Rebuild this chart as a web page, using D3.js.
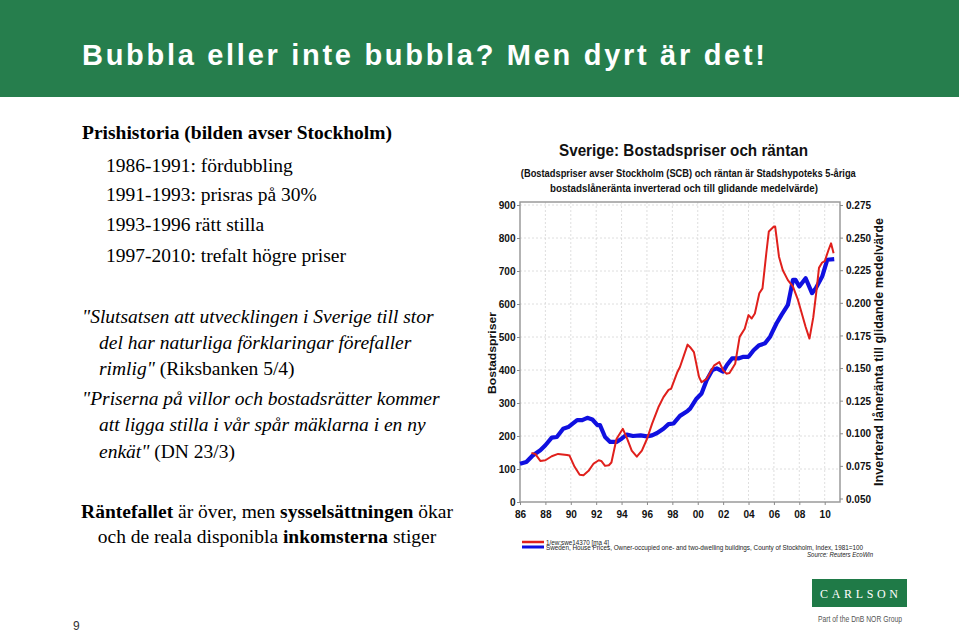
<!DOCTYPE html>
<html><head><meta charset="utf-8">
<script src="https://cdn.jsdelivr.net/npm/d3@7"></script>
<style>body{margin:0;background:#fff}svg{display:block}</style>
</head><body>
<svg id="c" width="959" height="635"></svg>
<script>
// ---------- data ----------
const priceYears = [1986.0,1986.5,1987.0,1987.6,1988.0,1988.5,1988.9,1989.4,1989.8,1990.5,1990.9,1991.3,1991.7,1992.1,1992.3,1992.7,1993.1,1993.6,1994.0,1994.4,1994.9,1995.5,1996.0,1996.4,1996.8,1997.3,1997.7,1998.1,1998.6,1999.2,1999.4,1999.9,2000.3,2000.7,2001.15,2001.5,2002.0,2002.3,2002.7,2003.2,2003.6,2004.0,2004.4,2004.8,2005.3,2005.7,2006.2,2006.6,2007.1,2007.5,2007.7,2008.0,2008.5,2009.0,2009.3,2009.8,2010.2,2010.75];
const priceValues = [116,121,141,157,172,195,197,222,227,248,248,255,250,233,233,197,182,182,192,204,200,202,199,202,209,222,236,238,261,276,283,313,329,369,400,405,395,415,435,435,440,440,460,474,481,501,541,567,597,673,673,653,678,633,648,683,734,736];

const rateYears = [1986.9,1987.2,1987.6,1988.0,1988.5,1989.0,1989.7,1989.9,1990.3,1990.7,1991.0,1991.4,1991.8,1992.2,1992.4,1992.7,1993.0,1993.2,1993.6,1994.1,1994.4,1994.8,1995.2,1995.6,1996.0,1996.4,1996.9,1997.3,1997.7,1997.9,1998.4,1998.6,1999.2,1999.4,1999.7,2000.1,2000.3,2000.7,2001.3,2001.7,2002.0,2002.26,2002.5,2002.95,2003.3,2003.7,2004.0,2004.25,2004.5,2004.85,2005.1,2005.4,2005.6,2006.0,2006.1,2006.4,2006.7,2007.1,2007.5,2007.9,2008.5,2008.8,2009.1,2009.35,2009.55,2009.8,2010.0,2010.3,2010.5,2010.7];
const rateValues = [0.0849,0.0842,0.0788,0.0793,0.0824,0.0842,0.0834,0.0829,0.0743,0.0682,0.0679,0.0712,0.0768,0.0793,0.0788,0.0750,0.0755,0.0776,0.0956,0.1034,0.0968,0.0867,0.0821,0.0867,0.0956,0.1072,0.1199,0.1277,0.1333,0.1341,0.1470,0.1508,0.1680,0.1660,0.1622,0.1432,0.1391,0.1417,0.1521,0.1546,0.1483,0.1457,0.1462,0.1533,0.1739,0.1802,0.1906,0.1880,0.1918,0.2073,0.2111,0.2380,0.2547,0.2585,0.2585,0.2354,0.2250,0.2174,0.2124,0.2020,0.1815,0.1726,0.1888,0.2091,0.2268,0.2309,0.2319,0.2405,0.2456,0.2380];

const leftTicks = [0,100,200,300,400,500,600,700,800,900];
const rightTicks = [0.050,0.075,0.100,0.125,0.150,0.175,0.200,0.225,0.250,0.275];
const xTicks = [1986,1988,1990,1992,1994,1996,1998,2000,2002,2004,2006,2008,2010];
const xTickLabels = ["86","88","90","92","94","96","98","00","02","04","06","08","10"];

const headerTitle = "Bubbla eller inte bubbla? Men dyrt är det!";
const historyHead = "Prishistoria (bilden avser Stockholm)";
const historyLines = ["1986-1991: fördubbling","1991-1993: prisras på 30%","1993-1996 rätt stilla","1997-2010: trefalt högre priser"];
const chartTitle = "Sverige: Bostadspriser och räntan";
const chartSub = ["(Bostadspriser avser Stockholm (SCB) och räntan är Stadshypoteks 5-åriga","bostadslåneränta inverterad och till glidande medelvärde)"];
const leftAxisTitle = "Bostadspriser";
const rightAxisTitle = "Inverterad låneränta till glidande medelvärde";
const legendRate = "1/ew:swe14370 [ma 4]";
const legendPrice = "Sweden, House Prices, Owner-occupied one- and two-dwelling buildings, County of Stockholm, Index, 1981=100";
const sourceText = "Source: Reuters EcoWin";

// ---------- setup ----------
const svg = d3.select("#c");
const SANS = "'Liberation Sans', Arial, sans-serif";
const SERIF = "'Liberation Serif','Times New Roman', serif";

// header band
svg.append("rect").attr("x",0).attr("y",0).attr("width",959).attr("height",97).attr("fill","#267e4d");
svg.append("text").attr("x",82).attr("y",65).text(headerTitle)
  .attr("fill","#fff").attr("font-family",SANS).attr("font-weight","bold").attr("font-size",29)
  .attr("textLength",683).attr("lengthAdjust","spacing");

// left text
const lt = svg.append("g").attr("font-family",SERIF).attr("font-size",19.5).attr("fill","#000");
lt.append("text").attr("x",82).attr("y",139).attr("font-weight","bold").text(historyHead);
const hy = [172,201,231,262];
historyLines.forEach((s,i)=>lt.append("text").attr("x",106).attr("y",hy[i]).text(s));

const quoteLines = [
  {x:82, y:323, parts:[['i','"Slutsatsen att utvecklingen i Sverige till stor']]},
  {x:99, y:349, parts:[['i','del har naturliga förklaringar förefaller']]},
  {x:99, y:375, parts:[['i','rimlig"'],['n',' (Riksbanken 5/4)']]},
  {x:82, y:405, parts:[['i','"Priserna på villor och bostadsrätter kommer']]},
  {x:99, y:431, parts:[['i','att ligga stilla i vår spår mäklarna i en ny']]},
  {x:99, y:458, parts:[['i','enkät"'],['n',' (DN 23/3)']]}
];
quoteLines.forEach(l=>{
  const t = lt.append("text").attr("x",l.x).attr("y",l.y).attr("xml:space","preserve");
  l.parts.forEach(p=>t.append("tspan").attr("font-style",p[0]==='i'?"italic":"normal").text(p[1]));
});
const bottomLines = [
  {y:518, parts:[['b','Räntefallet'],['n',' är över, men '],['b','sysselsättningen'],['n',' ökar']]},
  {y:543, parts:[['n','och de reala disponibla '],['b','inkomsterna'],['n',' stiger']]}
];
bottomLines.forEach(l=>{
  const t = lt.append("text").attr("x",267).attr("y",l.y).attr("text-anchor","middle").attr("xml:space","preserve");
  l.parts.forEach(p=>t.append("tspan").attr("font-weight",p[0]==='b'?"bold":"normal").text(p[1]));
});

// ---------- chart ----------
const x = d3.scaleLinear().domain([1986,2010]).range([520,824.7]);
const yL = d3.scaleLinear().domain([0,900]).range([502,205]);
const yR = d3.scaleLinear().domain([0.05,0.275]).range([498.5,205]);
const frame = {x0:520, x1:840, y0:202, y1:502};

const ch = svg.append("g").attr("font-family",SANS);

ch.append("text").attr("x",683.5).attr("y",156).attr("text-anchor","middle")
  .attr("font-size",17).attr("font-weight","bold").attr("fill","#111")
  .attr("textLength",249).attr("lengthAdjust","spacingAndGlyphs").text(chartTitle);
ch.append("text").attr("x",688.3).attr("y",176.5).attr("text-anchor","middle")
  .attr("font-size",10.5).attr("font-weight","bold").attr("fill","#111")
  .attr("textLength",335).attr("lengthAdjust","spacingAndGlyphs").text(chartSub[0]);
ch.append("text").attr("x",684).attr("y",191.5).attr("text-anchor","middle")
  .attr("font-size",10.5).attr("font-weight","bold").attr("fill","#111")
  .attr("textLength",268).attr("lengthAdjust","spacingAndGlyphs").text(chartSub[1]);

// grid
const grid = ch.append("g").attr("stroke","#d6d6d6").attr("stroke-width",0.8).attr("stroke-dasharray","2,2");
leftTicks.filter(d=>d>0).forEach(d=>grid.append("line").attr("x1",frame.x0).attr("x2",frame.x1).attr("y1",yL(d)).attr("y2",yL(d)));
xTicks.filter(d=>d>1986).forEach(d=>grid.append("line").attr("x1",x(d)).attr("x2",x(d)).attr("y1",frame.y0).attr("y2",frame.y1));

// frame
ch.append("rect").attr("x",frame.x0).attr("y",frame.y0).attr("width",frame.x1-frame.x0).attr("height",frame.y1-frame.y0)
  .attr("fill","none").attr("stroke","#9a9a9a").attr("stroke-width",1.5);

// axes
function styleAxis(g){
  g.select(".domain").remove();
  g.selectAll(".tick line").attr("stroke","#8a8a8a");
  g.selectAll(".tick text").attr("font-family",SANS).attr("font-weight","bold").attr("font-size",11.5).attr("fill","#111")
    .each(function(){
      const s = this.textContent;
      let w = 0; for (const c of s) w += (c==='.') ? 2.6 : 5.6;
      d3.select(this).attr("textLength",w).attr("lengthAdjust","spacingAndGlyphs");
    });
}
ch.append("g").attr("transform",`translate(${frame.x0},0)`)
  .call(d3.axisLeft(yL).tickValues(leftTicks).tickSize(3).tickPadding(1.5).tickFormat(d3.format("d")))
  .call(styleAxis);
ch.append("g").attr("transform",`translate(${frame.x1},0)`)
  .call(d3.axisRight(yR).tickValues(rightTicks).tickSize(3).tickPadding(3).tickFormat(d3.format(".3f")))
  .call(styleAxis);
ch.append("g").attr("transform",`translate(0,${frame.y1})`)
  .call(d3.axisBottom(x).tickValues(xTicks).tickSize(3).tickPadding(5).tickFormat((d,i)=>xTickLabels[i]))
  .call(styleAxis);

// axis titles
ch.append("text").attr("transform","translate(496,353) rotate(-90)").attr("text-anchor","middle")
  .attr("font-size",11.5).attr("font-weight","bold").attr("fill","#111")
  .attr("textLength",82).attr("lengthAdjust","spacingAndGlyphs").text(leftAxisTitle);
ch.append("text").attr("transform","translate(882.5,352) rotate(-90)").attr("text-anchor","middle")
  .attr("font-size",12).attr("font-weight","bold").attr("fill","#111")
  .attr("textLength",268).attr("lengthAdjust","spacingAndGlyphs").text(rightAxisTitle);

// lines
const priceData = priceYears.map((yr,i)=>[yr,priceValues[i]]);
const rateData = rateYears.map((yr,i)=>[yr,rateValues[i]]);
ch.append("path").datum(priceData)
  .attr("d",d3.line().x(d=>x(d[0])).y(d=>yL(d[1])))
  .attr("fill","none").attr("stroke","#1010e0").attr("stroke-width",4.2).attr("stroke-linejoin","round");
ch.append("path").datum(rateData)
  .attr("d",d3.line().x(d=>x(d[0])).y(d=>yR(d[1])))
  .attr("fill","none").attr("stroke","#e0201c").attr("stroke-width",2).attr("stroke-linejoin","round");

// legend
const lg = svg.append("g").attr("font-family",SANS).attr("fill","#222");
lg.append("line").attr("x1",522).attr("x2",544).attr("y1",542).attr("y2",542).attr("stroke","#e0201c").attr("stroke-width",2.5);
lg.append("line").attr("x1",522).attr("x2",544).attr("y1",547).attr("y2",547).attr("stroke","#1010e0").attr("stroke-width",3);
lg.append("text").attr("x",546).attr("y",544.5).attr("font-size",6.5).attr("textLength",63).attr("lengthAdjust","spacingAndGlyphs").text(legendRate);
lg.append("text").attr("x",546).attr("y",550).attr("font-size",6.5).attr("textLength",317).attr("lengthAdjust","spacingAndGlyphs").text(legendPrice);
lg.append("text").attr("x",873).attr("y",557).attr("text-anchor","end").attr("font-size",6.5).attr("font-style","italic")
  .attr("textLength",66).attr("lengthAdjust","spacingAndGlyphs").text(sourceText);

// logo
svg.append("rect").attr("x",812).attr("y",579).attr("width",95).attr("height",28).attr("fill","#1f7a47");
svg.append("text").attr("x",859).attr("y",598).attr("text-anchor","middle").attr("fill","#fff")
  .attr("font-family",SERIF).attr("font-size",12).attr("textLength",78).attr("lengthAdjust","spacing").text("CARLSON");
svg.append("text").attr("x",860).attr("y",622).attr("text-anchor","middle").attr("fill","#555")
  .attr("font-family",SANS).attr("font-size",9).attr("textLength",84).attr("lengthAdjust","spacingAndGlyphs").text("Part of the DnB NOR Group");

// page number
svg.append("text").attr("x",73).attr("y",630).attr("fill","#333").attr("font-family",SANS).attr("font-size",12).text("9");
</script>
</body></html>
